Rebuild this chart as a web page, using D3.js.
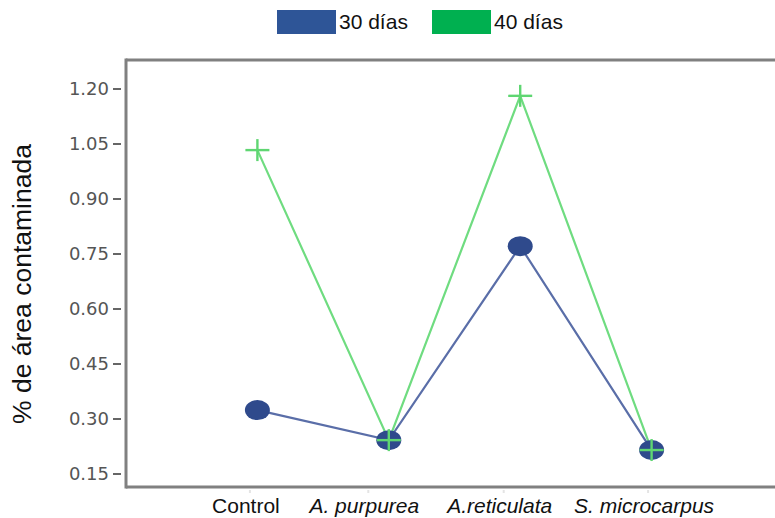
<!DOCTYPE html>
<html><head><meta charset="utf-8">
<script src="https://cdn.jsdelivr.net/npm/d3@7"></script>
<style>
html,body{margin:0;padding:0;background:#fff;}
svg{display:block;}
</style></head>
<body>
<script>
const categories = ["Control", "A. purpurea", "A.reticulata", "S. microcarpus"];
const italicCats = [false, true, true, true];
const dias30 = [0.323, 0.241, 0.770, 0.214];
const dias40 = [1.032, 0.241, 1.180, 0.214];
const yTicks = [0.15, 0.30, 0.45, 0.60, 0.75, 0.90, 1.05, 1.20];
const seriesNames = ["30 días", "40 días"];
const yTitle = "% de área contaminada";

const W = 775, H = 518;
const mLeft = 126, mTop = 60, mBottom = 487, mRight = 790;
const labelShift = [-12, -25, -21, -8];

const svg = d3.select("body").append("svg").attr("width", W).attr("height", H);

const x = d3.scalePoint().domain(categories).range([mLeft, 783]).padding(1);
const y = d3.scaleLinear().domain([0.15, 1.20]).range([473.5, 88.5]);

// frame
svg.append("line").attr("x1", mLeft).attr("x2", mRight).attr("y1", mTop).attr("y2", mTop)
  .attr("stroke", "#808080").attr("stroke-width", 3);
svg.append("line").attr("x1", mLeft).attr("x2", mRight).attr("y1", mBottom).attr("y2", mBottom)
  .attr("stroke", "#808080").attr("stroke-width", 3);

// y axis
const yAxis = svg.append("g").attr("transform", `translate(${mLeft},0)`)
  .call(d3.axisLeft(y).tickValues(yTicks).tickFormat(d3.format(".2f")).tickSize(12).tickPadding(4));
yAxis.select(".domain").remove();
yAxis.append("line").attr("x1", 0).attr("x2", 0).attr("y1", mTop - 1.5).attr("y2", mBottom + 1.5)
  .attr("stroke", "#808080").attr("stroke-width", 3);
yAxis.selectAll(".tick line").attr("stroke", "#666").attr("stroke-width", 2).attr("x2", -5).attr("x1", -13);
yAxis.selectAll(".tick text").attr("x", -17).attr("font-family", "DejaVu Sans").attr("font-size", 18)
  .attr("fill", "#555");

// x axis
const xAxis = svg.append("g").attr("transform", `translate(0,${mBottom})`)
  .call(d3.axisBottom(x).tickSize(4).tickPadding(10));
xAxis.select(".domain").remove();
xAxis.selectAll(".tick line").attr("stroke", "#e4e4e4").attr("stroke-width", 2).attr("y1", 3).attr("y2", 6)
  .attr("transform", (d, i) => `translate(${labelShift[i] + 4},0)`);
xAxis.selectAll(".tick text").attr("font-family", "Liberation Sans, Arial").attr("font-size", 21)
  .attr("fill", "#111").attr("y", 11)
  .attr("x", (d, i) => labelShift[i])
  .attr("font-style", (d, i) => italicCats[i] ? "italic" : "normal");

// lines
const line = d3.line().x((d, i) => x(categories[i])).y(d => y(d));
svg.append("path").datum(dias40).attr("d", line).attr("fill", "none")
  .attr("stroke", "#6fdc80").attr("stroke-width", 2.2);
svg.append("path").datum(dias30).attr("d", line).attr("fill", "none")
  .attr("stroke", "#5a6ea8").attr("stroke-width", 2.2);

// markers
svg.selectAll("ellipse.m30").data(dias30).enter().append("ellipse")
  .attr("cx", (d, i) => x(categories[i])).attr("cy", d => y(d))
  .attr("rx", 12.5).attr("ry", 10).attr("fill", "#2f4a8c");
const plus = svg.selectAll("g.m40").data(dias40).enter().append("g")
  .attr("transform", (d, i) => `translate(${x(categories[i])},${y(d)})`);
plus.append("line").attr("x1", -12).attr("x2", 12).attr("y1", 0).attr("y2", 0)
  .attr("stroke", "#5fd672").attr("stroke-width", 2.4);
plus.append("line").attr("x1", 0).attr("x2", 0).attr("y1", -11).attr("y2", 11)
  .attr("stroke", "#5fd672").attr("stroke-width", 2.4);

// y title
svg.append("text").attr("transform", "translate(31,284) rotate(-90)")
  .attr("text-anchor", "middle").attr("font-family", "Liberation Sans, Arial")
  .attr("font-size", 26.5).attr("fill", "#111").text(yTitle);

// legend
const legendColors = ["#2e5597", "#00b050"];
const legendX = [277, 432];
seriesNames.forEach((name, i) => {
  svg.append("rect").attr("x", legendX[i]).attr("y", 10).attr("width", 59).attr("height", 24)
    .attr("fill", legendColors[i]);
  svg.append("text").attr("x", legendX[i] + 62).attr("y", 29)
    .attr("font-family", "Liberation Sans, Arial").attr("font-size", 21)
    .attr("fill", "#111").text(name);
});
</script>
</body></html>
